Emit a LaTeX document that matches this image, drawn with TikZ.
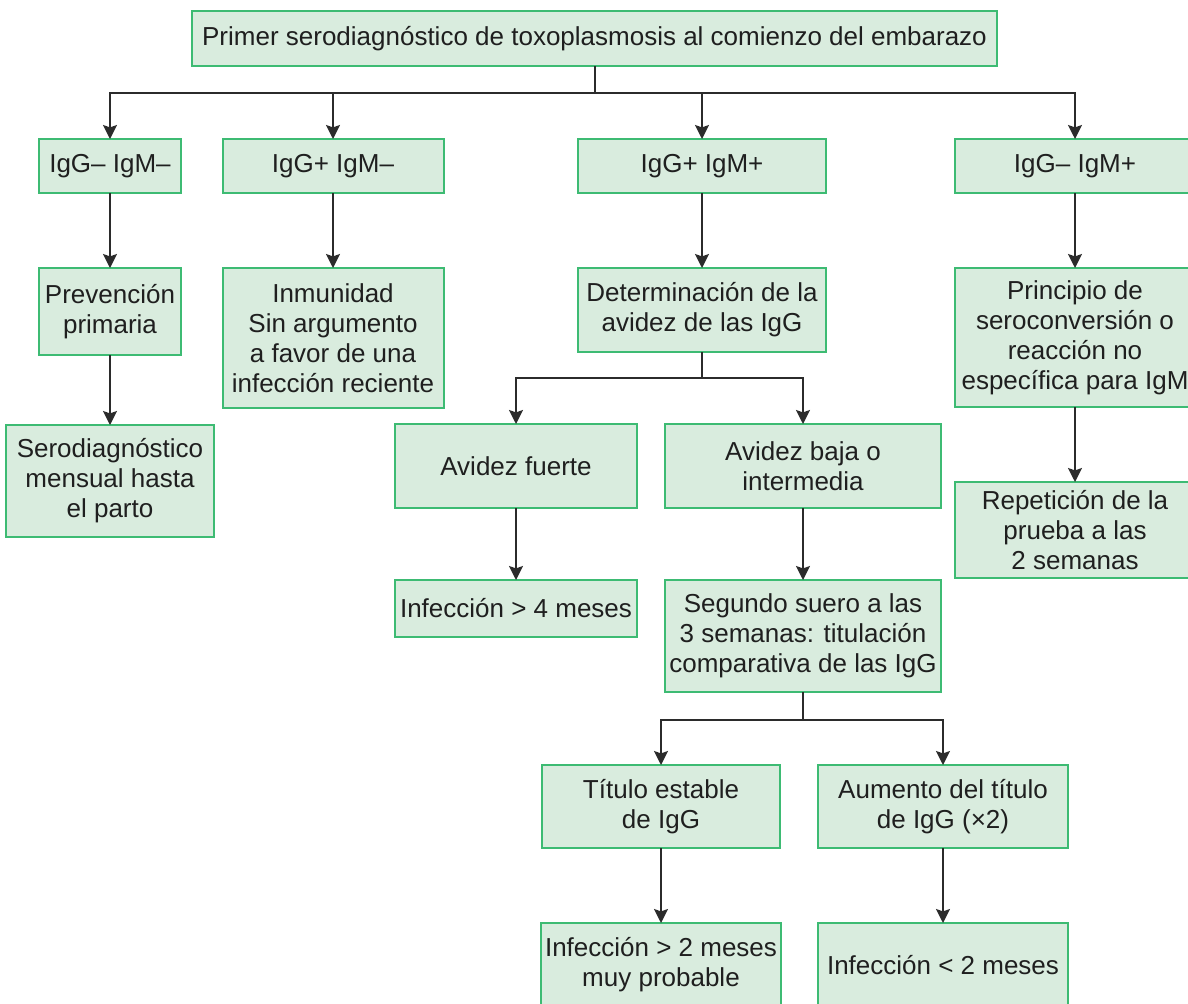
\documentclass[tikz,border=0pt]{standalone}
\usepackage{fontspec}
\setmainfont{Liberation Sans}
\usetikzlibrary{arrows.meta,positioning}
\definecolor{boxfill}{HTML}{D9ECDE}
\definecolor{boxline}{HTML}{3DBB73}
\definecolor{wire}{HTML}{2B2B2B}
\tikzset{
	box/.style={draw=boxline, line width=1pt, fill=boxfill, align=center, inner sep=2pt, outer sep=0pt, text=black!88, font=\fontsize{13}{15}\selectfont},
	flow/.style={-{Stealth[length=7pt, width=7pt, inset=1.2pt]}, line width=1pt, draw=wire},
	link/.style={line width=1pt, draw=wire}
}

\begin{document}
\begin{tikzpicture}[x=0.5pt, y=-0.5pt, node distance=37pt]
	\useasboundingbox (0,0) rectangle (1188,1003);
	\clip (0,0) rectangle (1188,1003);
	\node[box, minimum width=402.5pt, minimum height=27.5pt] (primer) at (594.5,38.5) {Primer serodiagnóstico de toxoplasmosis al comienzo del embarazo};
	% serological profiles
	\node[box, minimum width=71pt, minimum height=27pt] (negneg) at (110,166) {IgG– IgM–};
	\node[box, minimum width=110.5pt, minimum height=27pt] (posneg) at (333,166) {IgG+ IgM–};
	\node[box, minimum width=124pt, minimum height=27pt] (pospos) at (702,166) {IgG+ IgM+};
	\node[box, minimum width=120pt, minimum height=27pt] (negpos) at (1075,166) {IgG– IgM+};
	\draw[link] (primer.south) -- ++(0,27) coordinate (primj);
	\draw[flow] (primj) -| (negneg.north);
	\draw[flow] (primj) -| (posneg.north);
	\draw[flow] (primj) -| (pospos.north);
	\draw[flow] (primj) -| (negpos.north);
	% IgG- IgM-
	\node[box, below=37.5pt of negneg, minimum width=71pt, minimum height=43.5pt] (prev) {Prevención\\primaria};
	\node[box, below=35pt of prev, minimum width=104pt, minimum height=56pt] (mensual) {Serodiagnóstico\\mensual hasta\\el parto};
	\draw[flow] (negneg) -- (prev);
	\draw[flow] (prev) -- (mensual);
	% IgG+ IgM-
	\node[box, below=37.5pt of posneg, minimum width=110.5pt, minimum height=70pt] (inmun) {Inmunidad\\Sin argumento\\a favor de una\\infección reciente};
	\draw[flow] (posneg) -- (inmun);
	% IgG+ IgM+
	\node[box, below=37.5pt of pospos, minimum width=124pt, minimum height=42pt] (avidez) {Determinación de la\\avidez de las IgG};
	\node[box, below=36pt of avidez, xshift=-93pt, minimum width=121pt, minimum height=42pt] (avfuerte) {Avidez fuerte};
	\node[box, below=36pt of avidez, xshift=50.5pt, minimum width=138pt, minimum height=42pt] (avbaja) {Avidez baja o\\intermedia};
	\draw[flow] (pospos) -- (avidez);
	\draw[link] (avidez.south) -- ++(0,26) coordinate (avj);
	\draw[flow] (avj) -| (avfuerte.north);
	\draw[flow] (avj) -| (avbaja.north);
	\node[box, below=36pt of avfuerte, minimum width=121pt, minimum height=28.5pt] (mas4) {Infección > 4 meses};
	\node[box, below=36pt of avbaja, minimum width=138pt, minimum height=56pt] (suero) {Segundo suero a las\\3 semanas: titulación\\comparativa de las IgG};
	\draw[flow] (avfuerte) -- (mas4);
	\draw[flow] (avbaja) -- (suero);
	\node[box, below=36.5pt of suero, xshift=-71pt, minimum width=119pt, minimum height=41.5pt] (estable) {Título estable\\de IgG};
	\node[box, below=36.5pt of suero, xshift=70pt, minimum width=125pt, minimum height=41.5pt] (aumento) {Aumento del título\\de IgG (×2)};
	\draw[link] (suero.south) -- ++(0,28) coordinate (suj);
	\draw[flow] (suj) -| (estable.north);
	\draw[flow] (suj) -| (aumento.north);
	\node[box, below=37.5pt of estable, minimum width=119pt, minimum height=42pt] (mas2) {Infección > 2 meses\\muy probable};
	\node[box, below=37.5pt of aumento, minimum width=125pt, minimum height=42pt] (menos2) {Infección < 2 meses};
	\draw[flow] (estable) -- (mas2);
	\draw[flow] (aumento) -- (menos2);
	% IgG- IgM+
	\node[box, below=37.5pt of negpos, minimum width=120pt, minimum height=69.5pt] (princ) {Principio de\\seroconversión o\\reacción no\\específica para IgM};
	\node[box, below=37.5pt of princ, minimum width=120pt, minimum height=48pt] (repet) {Repetición de la\\prueba a las\\2 semanas};
	\draw[flow] (negpos) -- (princ);
	\draw[flow] (princ) -- (repet);
\end{tikzpicture}
\end{document}
